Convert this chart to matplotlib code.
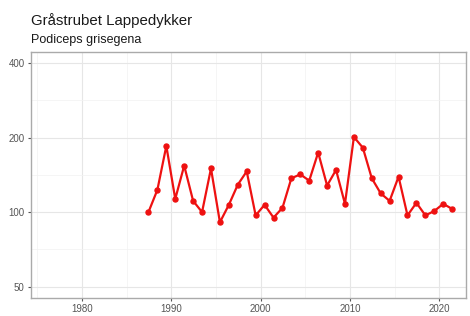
import numpy as np
import matplotlib.pyplot as plt
from matplotlib.ticker import FixedLocator, NullFormatter

plt.rcParams['font.family'] = ['Liberation Sans', 'DejaVu Sans']

# counts per season (plotted mid-season)
years = list(range(1987, 2022))
counts = [100, 123, 185, 113, 154, 111, 100, 150, 91, 107, 129, 146,
          97, 107, 95, 104, 137, 142, 134, 174, 128, 148, 108, 201,
          182, 137, 119, 111, 139, 97, 109, 97, 101, 108, 103]

title = "Gråstrubet Lappedykker"
subtitle = "Podiceps grisegena"
xticks = [1980, 1990, 2000, 2010, 2020]
yticks = [50, 100, 200, 400]

fig = plt.figure(figsize=(4.7, 3.16), dpi=100)
ax = fig.add_axes([31 / 470, 1 - 298 / 316, 435 / 470, 246 / 316])

x = np.asarray(years) + 0.45
ax.plot(x, counts, '-o', color='#ee1111', lw=1.6, ms=3.6, zorder=3)

ax.set_yscale('log')
ax.set_ylim(45.0, 443)
ax.set_xlim(1974.3, 2023)

ax.yaxis.set_major_locator(FixedLocator(yticks))
ax.yaxis.set_minor_locator(FixedLocator([np.sqrt(a * b) for a, b in zip(yticks[:-1], yticks[1:])]))
ax.yaxis.set_major_formatter(plt.FuncFormatter(lambda v, p: f"{v:g}"))
ax.yaxis.set_minor_formatter(NullFormatter())
ax.xaxis.set_major_locator(FixedLocator(xticks))
ax.xaxis.set_minor_locator(FixedLocator([t + 5 for t in [1970] + xticks]))

ax.grid(which='major', color='#e6e6e6', lw=0.8)
ax.grid(which='minor', color='#f2f2f2', lw=0.5)
ax.set_axisbelow(True)
for s in ax.spines.values():
    s.set_color('#aaaaaa')
    s.set_linewidth(1.0)
ax.tick_params(which='major', length=2.5, width=0.8, color='#555555',
               labelsize=7, labelcolor='#555555', pad=2)
ax.tick_params(which='minor', length=0)

fig.text(31 / 470, 1 - 20.5 / 316, title, fontsize=10.8, color='#1a1a1a', va='center')
fig.text(31 / 470, 1 - 40.5 / 316, subtitle, fontsize=9, color='#1a1a1a', va='center')

fig.savefig('out.png', dpi=100)
